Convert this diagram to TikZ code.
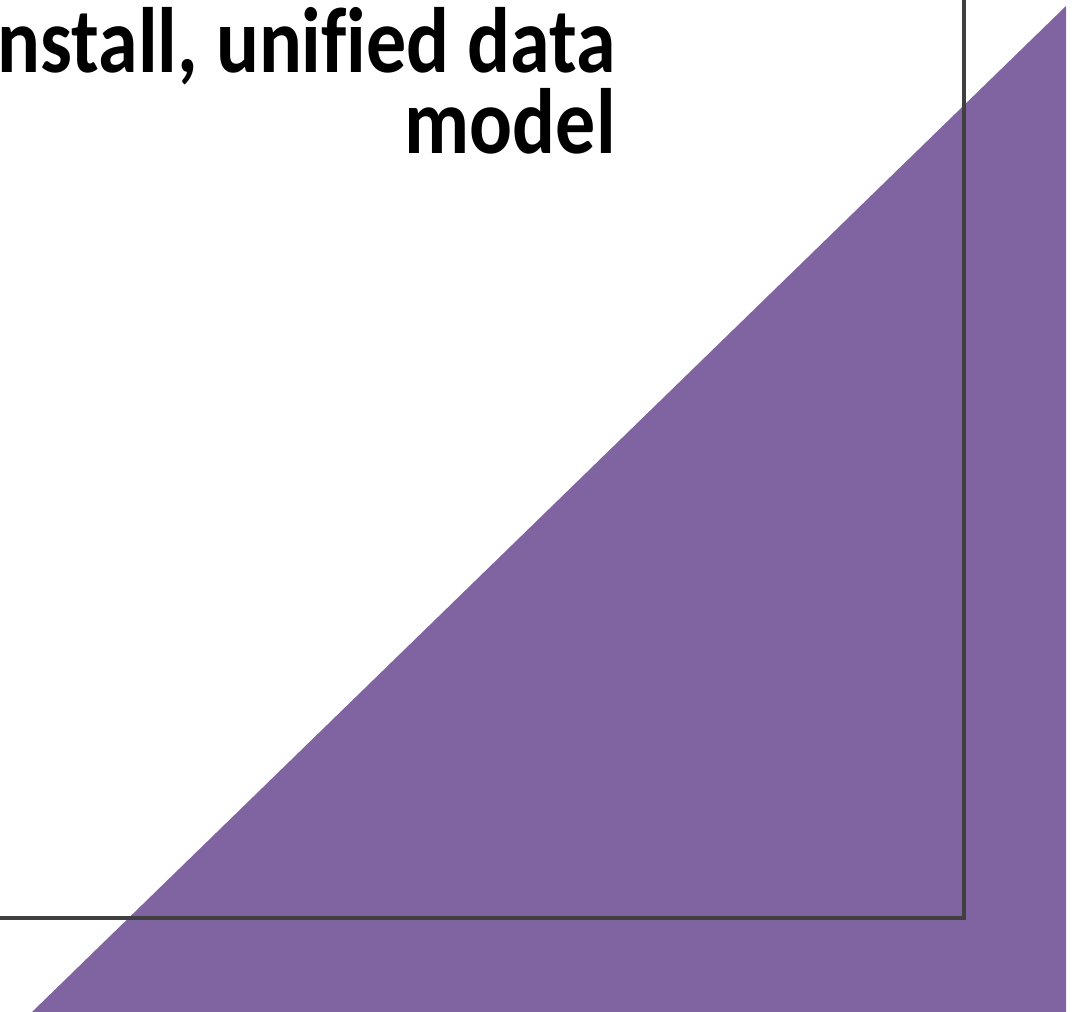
\documentclass[tikz,border=0pt]{standalone}
\usepackage{fontspec}
\setmainfont[Ligatures=NoCommon]{Carlito}
\definecolor{tripurple}{HTML}{8064A2}
\definecolor{framegray}{HTML}{404040}
\begin{document}
\begin{tikzpicture}[x=0.75pt,y=-0.75pt,
  title/.style={anchor=base east,inner sep=0pt,font=\fontsize{60}{66}\selectfont\bfseries}]
\useasboundingbox (0,0) rectangle (1088,1012);
\clip (0,0) rectangle (1088,1012);
\fill[tripurple] (1066,6) -- (1066,1012) -- (32,1012) -- cycle;
\draw[framegray,line width=3pt] (-20,-20) rectangle (964,918);
\node[title] (l1) at (616,73) {\scalebox{1}[1.16]{Install, unified data}};
\node[title] (l2) at (616,154) {\scalebox{1}[1.16]{model}};
\end{tikzpicture}
\end{document}
